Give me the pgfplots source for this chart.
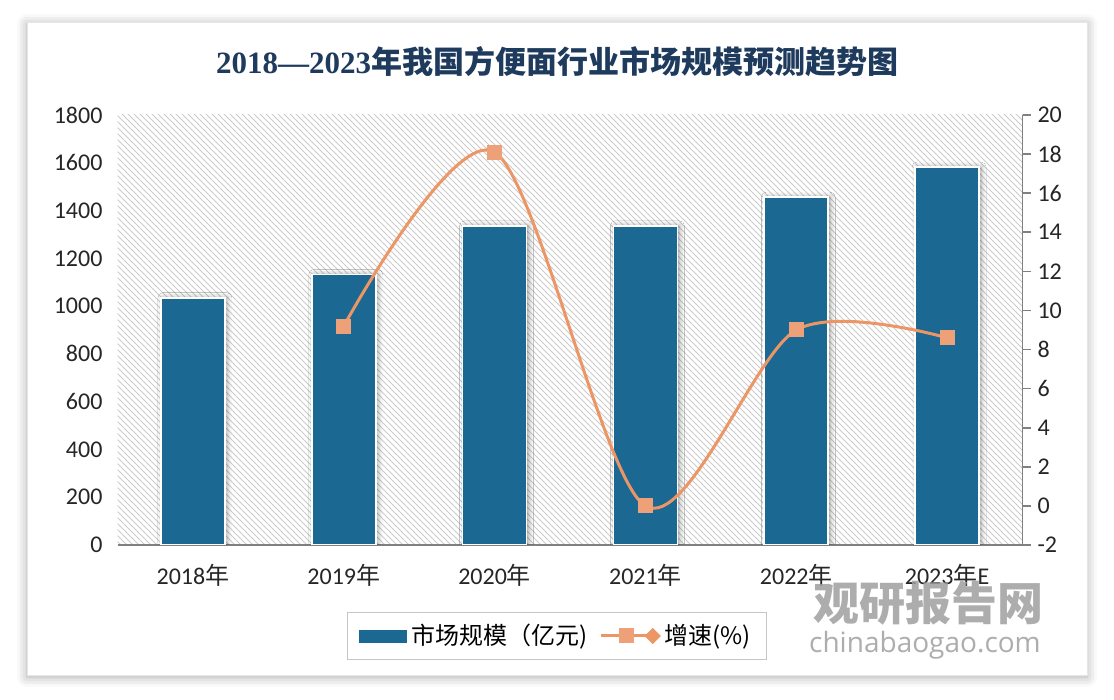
\documentclass[border=0pt]{standalone}
\usepackage{fontspec}
\setmainfont{Carlito}
\newfontfamily\cjk{Noto Sans CJK SC}
\newfontfamily\tserif{Liberation Serif}
\newfontfamily\wmfont{Open Sans}
\usepackage{pgfplots}
\pgfplotsset{compat=1.18}
\usetikzlibrary{patterns,shadows.blur}
\definecolor{barblue}{RGB}{27,104,146}
\definecolor{lineor}{RGB}{236,150,102}
\definecolor{markor}{RGB}{238,160,120}
\definecolor{titleblue}{RGB}{30,58,92}
\definecolor{axgray}{RGB}{128,128,128}
\pgfplotsset{
  every tick label/.append style={font=\fontsize{12}{14}\selectfont, text=black!85},
  /pgf/number format/assume math mode=true,
  /pgf/number format/1000 sep={},
}
\begin{document}
\begin{tikzpicture}[x=1pt,y=1pt]
\useasboundingbox (0,0) rectangle (557,350);
\fill[white, blur shadow={shadow xshift=0pt, shadow yshift=-1pt, shadow blur radius=5pt, shadow opacity=35}] (13.5,12.5) rectangle (543.5,339);
\draw[gray!20] (13.5,12.5) rectangle (543.5,339);
\node[font=\fontsize{15.5}{18}\selectfont\bfseries, text=titleblue] at (278.5,319) {{\tserif 2018—2023}{\cjk 年我国方便面行业市场规模预测趋势图}};

\begin{axis}[
  at={(58.75pt,77.5pt)}, anchor=south west,
  scale only axis, width=452.5pt, height=215pt,
  xmin=-0.5, xmax=5.5, ymin=0, ymax=1800,
  ytick={0,200,...,1800},
  xtick={0,...,5},
  xticklabels={{2018{\cjk 年}},{2019{\cjk 年}},{2020{\cjk 年}},{2021{\cjk 年}},{2022{\cjk 年}},{2023{\cjk 年}E}},
  axis x line*=bottom, axis y line*=left,
  y axis line style={draw=none},
  x axis line style={draw=axgray, line width=0.9pt},
  tick style={draw=none},
  yticklabel style={xshift=-4pt},
  xticklabel style={yshift=-6pt},
  axis background/.style={pattern=north west lines, pattern color=gray!40},
]
\addplot[ybar, bar width=32pt, fill=barblue, draw=white, line width=0.8pt,
  blur shadow={shadow xshift=1pt, shadow yshift=0pt, shadow blur radius=2.5pt, shadow opacity=40}]
  coordinates {(0,1035)(1,1132)(2,1336)(3,1336)(4,1456)(5,1582)};
\end{axis}

\begin{axis}[
  at={(58.75pt,77.5pt)}, anchor=south west,
  scale only axis, width=452.5pt, height=215pt,
  xmin=-0.5, xmax=5.5, ymin=-2, ymax=20,
  ytick={-2,0,...,20},
  axis x line=none, axis y line*=right,
  y axis line style={draw=axgray, line width=0.8pt},
  ytick style={draw=axgray, line width=0.8pt},
  tick align=outside, major tick length=4pt,
  legend style={at={(0.4856,-0.2116)}, anchor=center, legend columns=2,
    draw=gray!45, font=\fontsize{12}{14}\selectfont\cjk, inner xsep=6pt, inner ysep=4pt,
    /tikz/every even column/.append style={column sep=4pt}},
]
\addlegendimage{legend image code/.code={\fill[barblue] (0pt,-3pt) rectangle (23.5pt,3pt);}}
\addlegendentry{市场规模（亿元)}
\addplot[smooth, lineor, line width=1.5pt, mark=square*, mark size=3pt,
  mark options={fill=markor, draw=markor},
  legend image code/.code={\draw[lineor,line width=1.5pt] (0pt,0pt)--(26pt,0pt);
     \fill[markor] (10pt,-3pt) rectangle (16pt,3pt);
     \fill[lineor] (26pt,0pt) +(-3pt,0pt)--+(0pt,3pt)--+(3pt,0pt)--+(0pt,-3pt)--cycle;}]
  coordinates {(1,9.2)(2,18.1)(3,0)(4,9.0)(5,8.6)};
\addlegendentry{增速(\%)}
\end{axis}

\node[font=\fontsize{23}{26}\selectfont\cjk\bfseries, text=gray!75, opacity=0.85] at (464,48.5) {观研报告网};
\node[font=\fontsize{14}{16}\selectfont\wmfont, text=gray!75, opacity=0.85] at (462.5,27.5) {chinabaogao.com};
\end{tikzpicture}
\end{document}
